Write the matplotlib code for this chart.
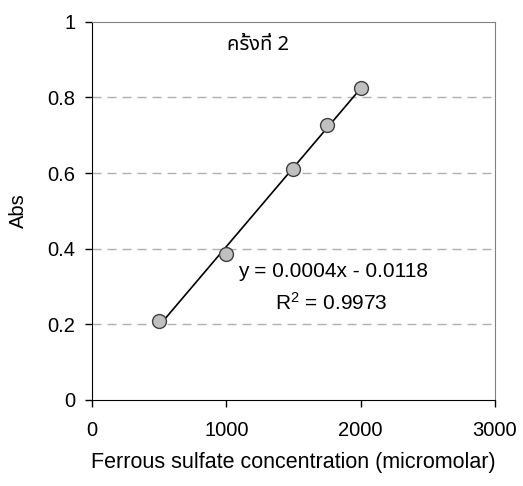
import matplotlib
matplotlib.use('Agg')
import matplotlib.pyplot as plt
import numpy as np

conc = [500, 1000, 1500, 1750, 2000]
absorb = [0.209, 0.386, 0.612, 0.727, 0.825]
title_text = u'ครั้งที่ 2'
eq_text = 'y = 0.0004x - 0.0118'
r2_text = '$\\mathregular{R^2}$ = 0.9973'

plt.rcParams['font.family'] = ['Liberation Sans', 'DejaVu Sans']
plt.rcParams['font.size'] = 14

fig = plt.figure(figsize=(5.23, 4.86), dpi=100)
ax = fig.add_axes([0.176, 0.177, 0.77, 0.778])

for yv in [0.2, 0.4, 0.6, 0.8]:
    ax.axhline(yv, color='#b0b0b0', lw=1, ls=(0, (6.5, 4.3)), zorder=1)

# trend line from least squares fit
slope, icpt = np.polyfit(conc, absorb, 1)
xs = np.array([min(conc), max(conc)])
ax.plot(xs, slope * xs + icpt, color='black', lw=1.2, zorder=2)
ax.plot(conc, absorb, 'o', ms=10, mfc='#c0c0c0', mec='#404040', mew=1, zorder=3)

ax.set_xlim(0, 3000)
ax.set_ylim(0, 1)
ax.set_xticks([0, 1000, 2000, 3000])
ax.set_yticks([0, 0.2, 0.4, 0.6, 0.8, 1])
ax.set_yticklabels(['0', '0.2', '0.4', '0.6', '0.8', '1'])
ax.tick_params(direction='out', length=5, width=1, labelsize=14.5)
ax.tick_params(axis='y', pad=7)
ax.tick_params(axis='x', pad=10)
for s in ['top', 'right']:
    ax.spines[s].set_color('#808080')

ax.set_xlabel('Ferrous sulfate concentration (micromolar)', labelpad=9, fontsize=15.5)
ax.set_ylabel('Abs', labelpad=14, fontsize=14.5)

ax.text(1236, 0.939, title_text, ha='center', va='center', fontsize=14.5,
        family=['Noto Sans Thai', 'Liberation Sans', 'DejaVu Sans'])
ax.text(1794, 0.339, eq_text, ha='center', va='center', fontsize=15)
ax.text(1785, 0.257, r2_text, ha='center', va='center', fontsize=15)

fig.savefig('out.png', dpi=100)
